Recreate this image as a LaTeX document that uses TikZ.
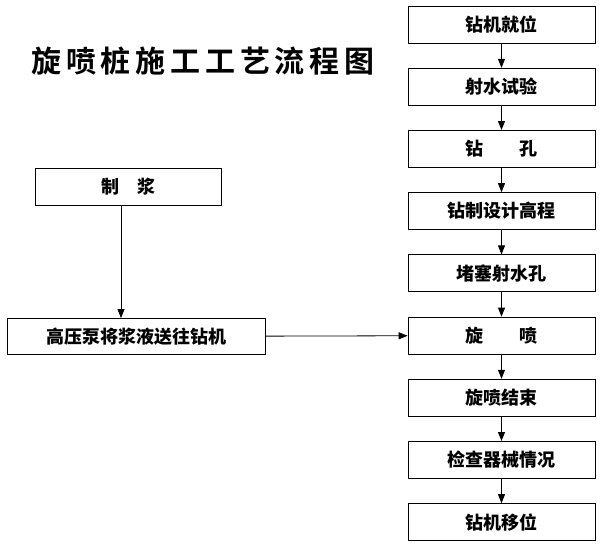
\documentclass[tikz,border=0pt]{standalone}
\usepackage{fontspec}
\newfontfamily\cjk{Noto Sans CJK SC}
\newfontfamily\cjktitle[LetterSpace=16]{Noto Sans CJK SC Bold}
\usetikzlibrary{arrows.meta,positioning}
\tikzset{
  flow/.style={
    x=1pt,
    y=-1pt,
    line width=0.8pt
  },
  step-box/.style={
    rectangle,
    draw=black,
    line width=0.8pt,
    minimum width=187pt,
    minimum height=37pt,
    inner sep=0pt,
    font=\cjk\bfseries\fontsize{18}{18}\selectfont
  },
  flow-arrow/.style={
    -{Triangle[length=9pt,width=7pt]},
    line width=0.8pt
  }
}

\begin{document}
\begin{tikzpicture}[flow]
  \useasboundingbox (0,0) rectangle (603,552);
  \node[font=\cjktitle\fontsize{30}{30}\selectfont] (title) at (203,61) {旋喷桩施工工艺流程图};
  % right column
  \foreach \name/\txt [count=\i] in {pos/钻机就位, test/射水试验,
      drill/钻\hspace{2em}孔, depth/钻制设计高程, plug/堵塞射水孔,
      jet/旋\hspace{2em}喷, done/旋喷结束, check/检查器械情况, move/钻机移位} {
    \node[step-box] (\name) at (501.5,{24.5+62.2*(\i-1)}) {\txt};
  }
  \foreach \a/\b in {pos/test, test/drill, drill/depth, depth/plug,
      plug/jet, jet/done, done/check, check/move} {
    \draw[flow-arrow] (\a) -- (\b);
  }
  % left column
  \node[step-box, minimum width=186pt] (mix) at (128,187) {制\hspace{1em}浆};
  \node[step-box, minimum width=258pt, minimum height=36pt] (pump) at (136,336.5) {高压泵将浆液送往钻机};
  \draw[flow-arrow] (mix.south -| 121,0) -- (pump.north -| 121,0);
  \draw[flow-arrow] (pump) -- (jet);
\end{tikzpicture}
\end{document}
